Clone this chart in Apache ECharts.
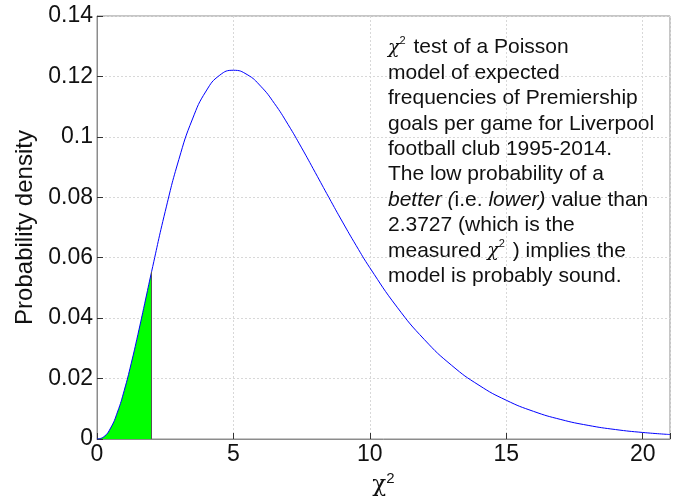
<!DOCTYPE html>
<html>
<head>
<meta charset="utf-8">
<script src="https://cdn.jsdelivr.net/npm/echarts@6/dist/echarts.min.js"></script>
<style>
  html, body { margin: 0; padding: 0; background: #fff; }
  #chart { width: 685px; height: 500px; }
</style>
</head>
<body>
<div id="chart"></div>
<script>
// chi-squared pdf
let xs = [0, 0.25, 0.5, 0.75, 1, 1.25, 1.5, 1.75, 2, 2.5, 3, 3.5, 4, 4.5, 5, 5.5, 6, 6.5, 7, 7.5, 8, 8.5, 9, 9.5, 10, 11, 12, 13, 14, 15, 16, 17, 18, 19, 20, 21];
let density = [0, 0.00073, 0.00366, 0.0089, 0.01613, 0.02487, 0.03462, 0.04492, 0.05535, 0.0753, 0.09251, 0.10592, 0.11518, 0.12042, 0.12204, 0.12062, 0.11676, 0.11109, 0.10412, 0.09636, 0.08818, 0.07991, 0.0718, 0.06401, 0.05667, 0.04362, 0.03289, 0.02436, 0.01779, 0.01282, 0.00914, 0.00645, 0.00451, 0.00313, 0.00216, 0.00148];
let shadeTo = 2;
let xTicks = [0, 5, 10, 15, 20];
let yTicks = [0, 0.02, 0.04, 0.06, 0.08, 0.1, 0.12, 0.14];

let curve = xs.map((x, i) => [x, density[i]]);
let shaded = curve.filter(p => p[0] <= shadeTo);
let shadeTop = shaded[shaded.length - 1][1];

let myChart = echarts.init(document.getElementById('chart'));
let font = 'Liberation Sans, Arial, sans-serif';

let option = {
  backgroundColor: '#fff',
  animation: false,
  grid: { left: 97, right: 15, top: 16, bottom: 61, outerBoundsMode: 'none', containLabel: false,
    show: true, borderColor: '#8c8c8c', borderWidth: 1 },
  xAxis: {
    type: 'value', min: 0, max: 21, interval: 5,
    name: '{c|χ}{s|2}', nameLocation: 'middle', nameGap: 30,
    nameTextStyle: {
      rich: {
        c: { fontFamily: 'DejaVu Serif', fontSize: 23, color: '#111', padding: [0, 0, 0, 0] },
        s: { fontFamily: font, fontSize: 15, color: '#111', verticalAlign: 'top', padding: [0, 0, 14, 0] }
      }
    },
    axisLine: { show: true, onZero: false, lineStyle: { color: '#8c8c8c' } },
    axisTick: { inside: true, length: 6, lineStyle: { color: '#333' } },
    axisLabel: { color: '#111', fontSize: 23, fontFamily: font, margin: 4,
      formatter: v => xTicks.indexOf(v) >= 0 ? String(v) : '' },
    splitLine: { show: true, lineStyle: { color: '#d8d8d8', type: [2, 2] } }
  },
  yAxis: {
    type: 'value', min: 0, max: 0.14, interval: 0.02,
    name: 'Probability density', nameLocation: 'middle', nameGap: 55, nameRotate: 90,
    nameTextStyle: { color: '#111', fontSize: 24, fontFamily: font },
    axisLine: { show: true, lineStyle: { color: '#8c8c8c' } },
    axisTick: { inside: true, length: 6, lineStyle: { color: '#333' } },
    axisLabel: { color: '#111', fontSize: 23, fontFamily: font, margin: 4,
      formatter: v => { let t = yTicks.find(y => Math.abs(y - v) < 1e-9); return t === undefined ? '' : String(t); } },
    splitLine: { show: true, lineStyle: { color: '#d8d8d8', type: [2, 2] } }
  },
  series: [
    {
      name: 'shaded',
      type: 'line',
      smooth: true,
      showSymbol: false,
      data: shaded,
      lineStyle: { width: 0 },
      areaStyle: { color: '#00ff00', opacity: 1 },
      markLine: {
        symbol: 'none', silent: true, label: { show: false },
        lineStyle: { color: '#555', type: 'solid', width: 1 },
        data: [[{ coord: [shadeTo, 0] }, { coord: [shadeTo, shadeTop] }]]
      },
      z: 2
    },
    {
      name: 'pdf',
      type: 'line',
      smooth: true,
      showSymbol: false,
      data: curve,
      lineStyle: { color: '#0000ff', width: 1 },
      z: 3
    }
  ],
  graphic: [{
    type: 'text', left: 388, top: 35, z: 10,
    style: {
      text: '{c|χ}{s|2}{t| test of a Poisson}\n{t|model of expected}\n{t|frequencies of Premiership}\n{t|goals per game for Liverpool}\n{t|football club 1995-2014.}\n{t|The low probability of a}\n{i|better (}{t|i.e. }{i|lower)}{t| value than}\n{t|2.3727 (which is the}\n{t|measured }{c|χ}{s|2}{t| ) implies the}\n{t|model is probably sound.}',
      fill: '#111',
      rich: {
        t: { fontFamily: font, fontSize: 21, lineHeight: 25.4, fill: '#111' },
        i: { fontFamily: font, fontSize: 21, lineHeight: 25.4, fontStyle: 'italic', fill: '#111' },
        c: { fontFamily: 'DejaVu Serif', fontStyle: 'italic', fontSize: 19, lineHeight: 25.4, fill: '#111' },
        s: { fontFamily: font, fontSize: 11, lineHeight: 25.4, verticalAlign: 'top', fill: '#111', padding: [0, 2, 9, 0] }
      }
    }
  }]
};
myChart.setOption(option);
</script>
</body>
</html>
